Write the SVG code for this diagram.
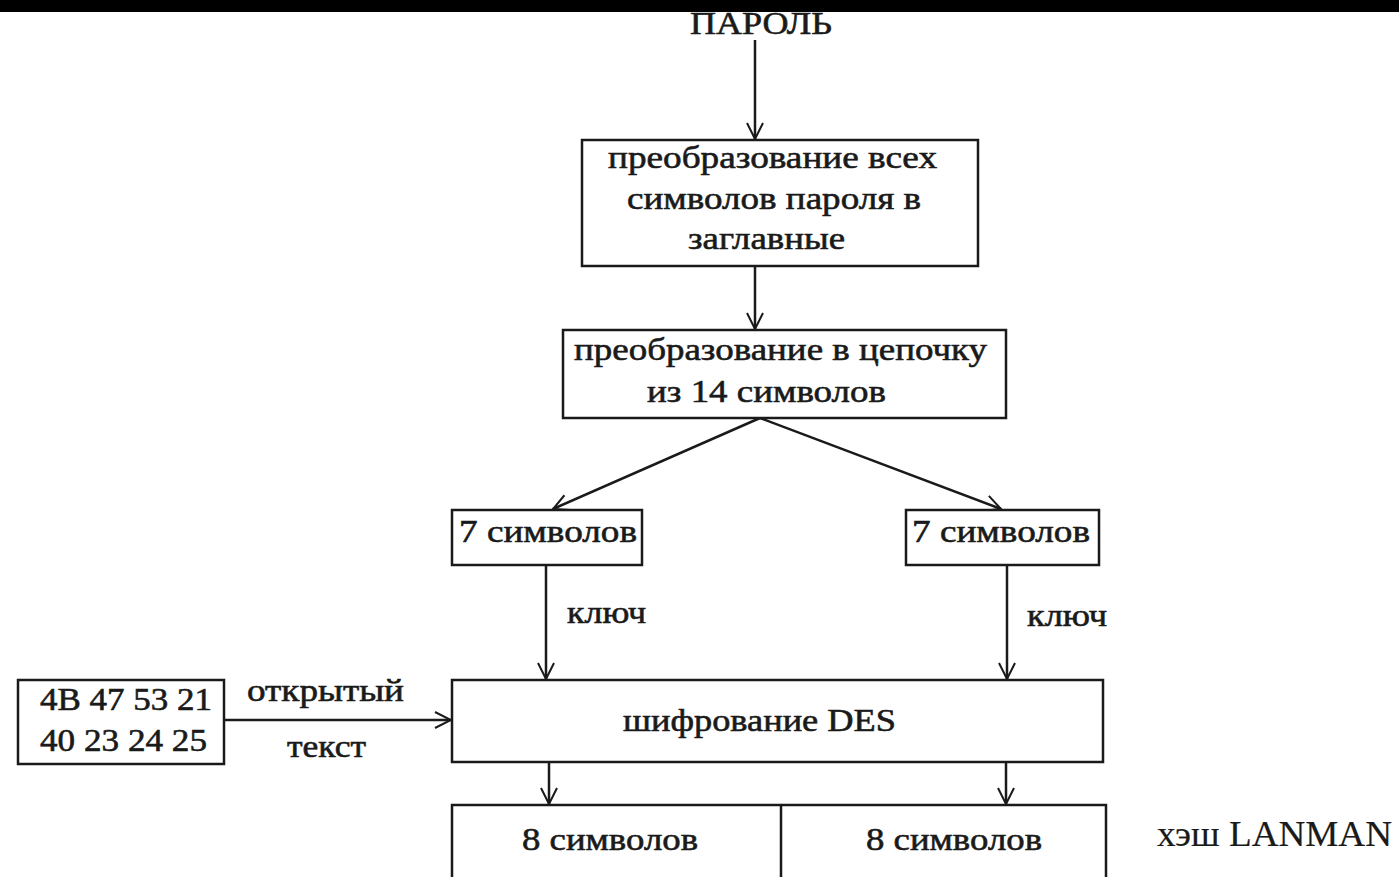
<svg xmlns="http://www.w3.org/2000/svg" width="1399" height="877" viewBox="0 0 1399 877">
  <style>
    .box { fill: #ffffff; stroke: #1a1a1a; stroke-width: 2.5; }
    .line { fill: none; stroke: #1a1a1a; stroke-width: 2.5; }
    .t { font-family: "Liberation Serif", "Times New Roman", serif; font-size: 32px; fill: #1a1a1a; stroke: #1a1a1a; stroke-width: 0.6; }
    .plain { font-size: 36px; stroke-width: 0.2; }
  </style>
  <defs>
    <marker id="arr" viewBox="0 0 20 20" refX="18" refY="10" markerWidth="20" markerHeight="20" markerUnits="userSpaceOnUse" orient="auto">
      <path d="M2,2 L18,10 L2,18" fill="none" stroke="#1a1a1a" stroke-width="2"/>
    </marker>
  </defs>
  <rect x="0" y="0" width="1399" height="877" fill="#ffffff"/>
  <rect x="0" y="0" width="1399" height="12" fill="#000000"/>

  <g id="connectors">
    <line class="line" x1="755" y1="40" x2="755" y2="139" marker-end="url(#arr)"/>
    <line class="line" x1="755" y1="266" x2="755" y2="329" marker-end="url(#arr)"/>
    <line class="line" x1="760" y1="418" x2="553" y2="509" marker-end="url(#arr)"/>
    <line class="line" x1="760" y1="418" x2="1001" y2="509" marker-end="url(#arr)"/>
    <line class="line" x1="546" y1="565" x2="546" y2="679" marker-end="url(#arr)"/>
    <line class="line" x1="1007" y1="565" x2="1007" y2="679" marker-end="url(#arr)"/>
    <line class="line" x1="224" y1="720" x2="451" y2="720" marker-end="url(#arr)"/>
    <line class="line" x1="549" y1="762" x2="549" y2="804" marker-end="url(#arr)"/>
    <line class="line" x1="1006" y1="762" x2="1006" y2="804" marker-end="url(#arr)"/>
  </g>

  <g id="password">
    <text class="t" x="690" y="34" textLength="142" lengthAdjust="spacingAndGlyphs">ПАРОЛЬ</text>
  </g>

  <g id="uppercase">
    <rect class="box" x="582" y="140" width="396" height="126"/>
    <text class="t" x="608" y="168" textLength="329" lengthAdjust="spacingAndGlyphs">преобразование всех</text>
    <text class="t" x="627" y="209" textLength="294" lengthAdjust="spacingAndGlyphs">символов пароля в</text>
    <text class="t" x="688" y="249" textLength="157" lengthAdjust="spacingAndGlyphs">заглавные</text>
  </g>

  <g id="chain14">
    <rect class="box" x="563" y="330" width="443" height="88"/>
    <text class="t" x="574" y="360" textLength="413" lengthAdjust="spacingAndGlyphs">преобразование в цепочку</text>
    <text class="t" x="647" y="402" textLength="239" lengthAdjust="spacingAndGlyphs">из 14 символов</text>
  </g>

  <g id="left7">
    <rect class="box" x="452" y="510" width="190" height="55"/>
    <text class="t" x="459" y="542" textLength="178" lengthAdjust="spacingAndGlyphs">7 символов</text>
  </g>

  <g id="right7">
    <rect class="box" x="906" y="510" width="193" height="55"/>
    <text class="t" x="912" y="542" textLength="178" lengthAdjust="spacingAndGlyphs">7 символов</text>
  </g>

  <g id="key-labels">
    <text class="t" x="567" y="623" textLength="79" lengthAdjust="spacingAndGlyphs">ключ</text>
    <text class="t" x="1027" y="626" textLength="80" lengthAdjust="spacingAndGlyphs">ключ</text>
  </g>

  <g id="plaintext">
    <rect class="box" x="18" y="680" width="206" height="84"/>
    <text class="t" x="40" y="710" textLength="172" lengthAdjust="spacingAndGlyphs">4B 47 53 21</text>
    <text class="t" x="40" y="751" textLength="167" lengthAdjust="spacingAndGlyphs">40 23 24 25</text>
    <text class="t" x="247" y="701" textLength="157" lengthAdjust="spacingAndGlyphs">открытый</text>
    <text class="t" x="287" y="757" textLength="79" lengthAdjust="spacingAndGlyphs">текст</text>
  </g>

  <g id="des">
    <rect class="box" x="452" y="680" width="651" height="82"/>
    <text class="t" x="623" y="731" textLength="273" lengthAdjust="spacingAndGlyphs">шифрование DES</text>
  </g>

  <g id="hash">
    <rect class="box" x="452" y="805" width="654" height="80"/>
    <line class="line" x1="781" y1="805" x2="781" y2="877"/>
    <text class="t" x="522" y="850" textLength="176" lengthAdjust="spacingAndGlyphs">8 символов</text>
    <text class="t" x="866" y="850" textLength="176" lengthAdjust="spacingAndGlyphs">8 символов</text>
    <text class="t plain" x="1157" y="846" textLength="235" lengthAdjust="spacingAndGlyphs">хэш LANMAN</text>
  </g>
</svg>
